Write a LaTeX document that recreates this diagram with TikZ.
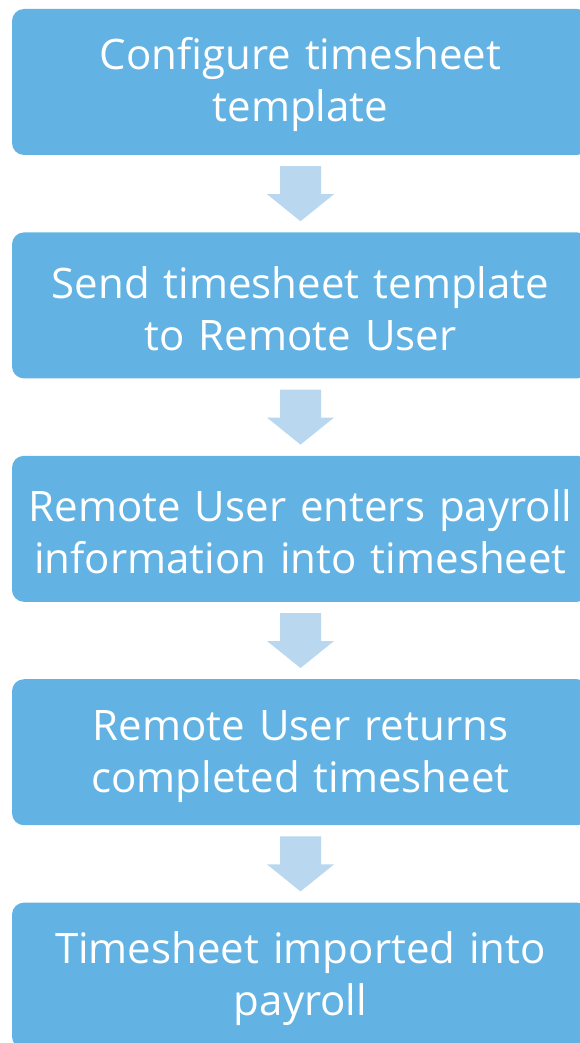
\documentclass[tikz,border=0pt]{standalone}
\usepackage{fontspec}
\setmainfont{Open Sans}
\usetikzlibrary{positioning}
\definecolor{stepblue}{HTML}{62B3E3}
\definecolor{arrowblue}{HTML}{B9D8F0}
\begin{document}
\begin{tikzpicture}[x=1pt, y=-1pt,
  stepbox/.style={fill=stepblue, rounded corners=12pt, inner sep=0pt,
    minimum width=577pt, minimum height=146pt, text width=560pt,
    align=center, text=white, font=\fontsize{42}{52}\selectfont,
    execute at begin node={\rule{0pt}{38pt}}},
  node distance=77pt]
 \useasboundingbox (0,0) rectangle (579,1043);
 \node[stepbox] (s1) at (300.5,82) {Configure timesheet\\template};
 \node[stepbox, below=of s1] (s2) {Send timesheet template\\to Remote User};
 \node[stepbox, below=of s2] (s3) {Remote User enters payroll\\information into timesheet};
 \node[stepbox, below=of s3] (s4) {Remote User returns\\completed timesheet};
 \node[stepbox, below=of s4] (s5) {Timesheet imported into\\payroll};
 % block arrows between the steps
 \foreach \a in {s1,s2,s3,s4}
   \fill[arrowblue] ([shift={(-20.5,11)}]\a.south) -- ([shift={(20.5,11)}]\a.south)
     -- ([shift={(20.5,39)}]\a.south) -- ([shift={(33.5,39)}]\a.south)
     -- ([shift={(0,66)}]\a.south) -- ([shift={(-33.5,39)}]\a.south)
     -- ([shift={(-20.5,39)}]\a.south) -- cycle;
\end{tikzpicture}
\end{document}
